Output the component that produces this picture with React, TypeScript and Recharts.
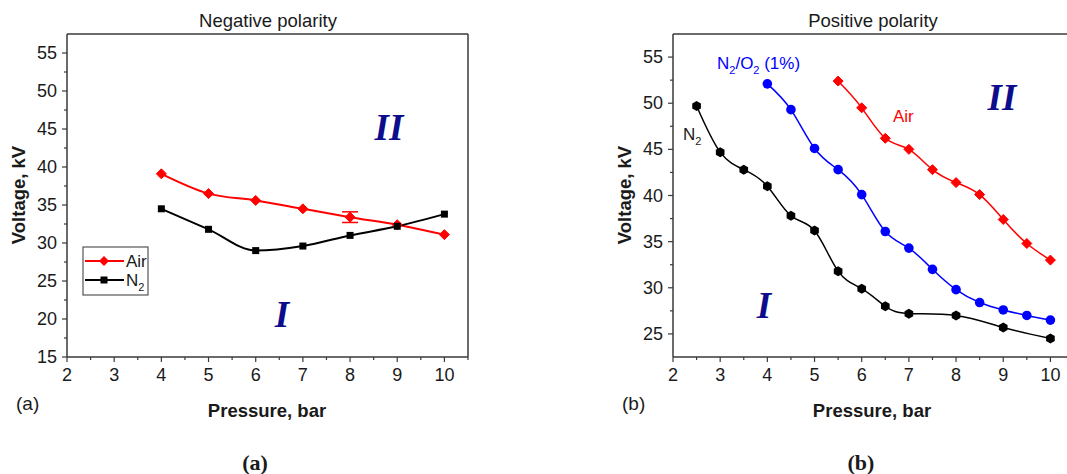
import React from "react";
import { LineChart, Line, XAxis, YAxis, ReferenceLine, ErrorBar } from "recharts";

// (a) negative polarity
const pressureNeg = [4, 5, 6, 7, 8, 9, 10];
const airNeg = [39.1, 36.5, 35.6, 34.5, 33.4, 32.4, 31.1];
const airNegErr = [0, 0, 0, 0, 0.7, 0, 0];
const n2Neg = [34.5, 31.8, 29.0, 29.6, 31.0, 32.2, 33.8];

// (b) positive polarity
const pressureN2Pos = [2.5, 3, 3.5, 4, 4.5, 5, 5.5, 6, 6.5, 7, 8, 9, 10];
const n2Pos = [49.7, 44.7, 42.8, 41.0, 37.8, 36.2, 31.8, 29.9, 28.0, 27.2, 27.0, 25.7, 24.5];
const pressureMixPos = [4, 4.5, 5, 5.5, 6, 6.5, 7, 7.5, 8, 8.5, 9, 9.5, 10];
const mixPos = [52.1, 49.3, 45.1, 42.8, 40.1, 36.1, 34.3, 32.0, 29.8, 28.4, 27.6, 27.0, 26.5];
const pressureAirPos = [5.5, 6, 6.5, 7, 7.5, 8, 8.5, 9, 9.5, 10];
const airPos = [52.4, 49.5, 46.2, 45.0, 42.8, 41.4, 40.1, 37.4, 34.8, 33.0];

const xTicks = [2, 2.5, 3, 3.5, 4, 4.5, 5, 5.5, 6, 6.5, 7, 7.5, 8, 8.5, 9, 9.5, 10, 10.5];
const yTicksNeg = [15, 17.5, 20, 22.5, 25, 27.5, 30, 32.5, 35, 37.5, 40, 42.5, 45, 47.5, 50, 52.5, 55];
const yTicksPos = [25, 27.5, 30, 32.5, 35, 37.5, 40, 42.5, 45, 47.5, 50, 52.5, 55];

const FRAME = "#3a3a3a";
const INK = "#1a1a1a";
const NAVY = "#0c0c8c";
const RED = "#ff0000";
const BLUE = "#0000ff";
const SANS = "'Liberation Sans', Arial, sans-serif";
const SERIF = "'Liberation Serif', 'Times New Roman', serif";

const zip = (xs: number[], ys: number[], err?: number[]) =>
  xs.map((x, i) => ({ x, v: ys[i], err: err ? err[i] : 0 }));

function XTick(props: any) {
  const { x, y, payload } = props;
  const v = payload.value;
  const major = Number.isInteger(v);
  return (
    <g>
      <line x1={x} y1={y} x2={x} y2={y + (major ? 5 : 3)} stroke={FRAME} strokeWidth={1.2} />
      {major && (
        <text x={x} y={y + 18} textAnchor="middle" dominantBaseline="central" fontSize={18} fontFamily={SANS} fill={INK}>
          {v}
        </text>
      )}
    </g>
  );
}

function YTick(props: any) {
  const { x, y, payload } = props;
  const v = payload.value;
  const major = v % 5 === 0;
  return (
    <g>
      <line x1={x - (major ? 5 : 3)} y1={y} x2={x} y2={y} stroke={FRAME} strokeWidth={1.2} />
      {major && (
        <text x={x - 10} y={y} textAnchor="end" dominantBaseline="central" fontSize={18} fontFamily={SANS} fill={INK}>
          {v}
        </text>
      )}
    </g>
  );
}

function diamond(color: string, r: number) {
  return (p: any) => (
    <path
      key={p.key ?? `d-${p.index}`}
      d={`M${p.cx},${p.cy - r}L${p.cx + r},${p.cy}L${p.cx},${p.cy + r}L${p.cx - r},${p.cy}Z`}
      fill={color}
      stroke={color}
    />
  );
}

function square(color: string, s: number) {
  return (p: any) => (
    <rect key={p.key ?? `s-${p.index}`} x={p.cx - s / 2} y={p.cy - s / 2} width={s} height={s} fill={color} />
  );
}

function circle(color: string, r: number) {
  return (p: any) => <circle key={p.key ?? `c-${p.index}`} cx={p.cx} cy={p.cy} r={r} fill={color} />;
}

function hexagon(color: string, r: number) {
  return (p: any) => {
    const pts = [0, 1, 2, 3, 4, 5]
      .map((k) => {
        const a = (Math.PI / 3) * k - Math.PI / 2;
        return `${p.cx + r * Math.cos(a)},${p.cy + r * Math.sin(a)}`;
      })
      .join(" ");
    return <polygon key={p.key ?? `h-${p.index}`} points={pts} fill={color} />;
  };
}

function axes(yDomain: number[], yTicks: number[]) {
  return [
    <XAxis
      key="x"
      type="number"
      dataKey="x"
      domain={[2, 10.5]}
      ticks={xTicks}
      interval={0}
      tick={<XTick />}
      tickLine={false}
      tickSize={0}
      tickMargin={0}
      height={30}
      allowDataOverflow
      axisLine={{ stroke: FRAME, strokeWidth: 1.5 }}
    />,
    <YAxis
      key="y"
      type="number"
      domain={yDomain}
      ticks={yTicks}
      interval={0}
      tick={<YTick />}
      tickLine={false}
      tickSize={0}
      tickMargin={0}
      width={40}
      allowDataOverflow
      axisLine={{ stroke: FRAME, strokeWidth: 1.5 }}
    />,
    <ReferenceLine key="top" y={yDomain[1]} stroke={FRAME} strokeWidth={1.5} />,
    <ReferenceLine key="right" x={10.5} stroke={FRAME} strokeWidth={1.5} />,
  ];
}

function Sub({ children }: { children: React.ReactNode }) {
  return (
    <tspan fontSize={11} dy={5}>
      {children}
    </tspan>
  );
}

export default function App() {
  return (
    <div style={{ position: "absolute", left: 0, top: 0, width: 1067, height: 474, overflow: "hidden", background: "#fff" }}>
      <div style={{ position: "absolute", left: 0, top: 0 }}>
        <LineChart width={520} height={474} margin={{ top: 34, right: 52, bottom: 87, left: 27 }}>
          {axes([15, 57.5], yTicksNeg)}
          <Line
            data={zip(pressureNeg, airNeg, airNegErr)}
            dataKey="v"
            type="monotone"
            stroke={RED}
            strokeWidth={2}
            dot={diamond(RED, 5)}
            activeDot={false}
            isAnimationActive={false}
          >
            <ErrorBar dataKey="err" direction="y" width={8} stroke={RED} strokeWidth={1.5} isAnimationActive={false} />
          </Line>
          <Line
            data={zip(pressureNeg, n2Neg)}
            dataKey="v"
            type="monotone"
            stroke="#000"
            strokeWidth={2}
            dot={square("#000", 7)}
            activeDot={false}
            isAnimationActive={false}
          />
        </LineChart>
      </div>

      <div style={{ position: "absolute", left: 540, top: 0 }}>
        <LineChart width={540} height={474} margin={{ top: 34, right: 6, bottom: 87, left: 93 }}>
          {axes([22.5, 57.5], yTicksPos)}
          <Line
            data={zip(pressureN2Pos, n2Pos)}
            dataKey="v"
            type="natural"
            stroke="#000"
            strokeWidth={1.5}
            dot={hexagon("#000", 5)}
            activeDot={false}
            isAnimationActive={false}
          />
          <Line
            data={zip(pressureMixPos, mixPos)}
            dataKey="v"
            type="natural"
            stroke={BLUE}
            strokeWidth={1.5}
            dot={circle(BLUE, 4.8)}
            activeDot={false}
            isAnimationActive={false}
          />
          <Line
            data={zip(pressureAirPos, airPos)}
            dataKey="v"
            type="natural"
            stroke={RED}
            strokeWidth={1.5}
            dot={diamond(RED, 5)}
            activeDot={false}
            isAnimationActive={false}
          />
        </LineChart>
      </div>

      <svg width={1067} height={474} style={{ position: "absolute", left: 0, top: 0, pointerEvents: "none" }}>
        <g fontFamily={SANS} fill={INK}>
          <text x={268} y={20} textAnchor="middle" dominantBaseline="central" fontSize={18.5}>Negative polarity</text>
          <text x={873} y={20} textAnchor="middle" dominantBaseline="central" fontSize={18.5}>Positive polarity</text>
          <text x={267} y={410} textAnchor="middle" dominantBaseline="central" fontSize={18.5} fontWeight="bold">Pressure, bar</text>
          <text x={872} y={410} textAnchor="middle" dominantBaseline="central" fontSize={18.5} fontWeight="bold">Pressure, bar</text>
          <text transform="translate(18,195) rotate(-90)" textAnchor="middle" dominantBaseline="central" fontSize={18.5} fontWeight="bold">Voltage, kV</text>
          <text transform="translate(624,195) rotate(-90)" textAnchor="middle" dominantBaseline="central" fontSize={18.5} fontWeight="bold">Voltage, kV</text>
          <text x={16} y={403} dominantBaseline="central" fontSize={19}>(a)</text>
          <text x={622} y={403} dominantBaseline="central" fontSize={19}>(b)</text>
        </g>
        <g fontFamily={SERIF} fontWeight="bold" fill={INK} fontSize={22}>
          <text x={255} y={462} textAnchor="middle" dominantBaseline="central">(a)</text>
          <text x={861} y={462} textAnchor="middle" dominantBaseline="central">(b)</text>
        </g>
        <g fontFamily={SERIF} fontStyle="italic" fontWeight="bold" fill={NAVY} fontSize={37}>
          <text x={389} y={127} textAnchor="middle" dominantBaseline="central">II</text>
          <text x={282} y={314} textAnchor="middle" dominantBaseline="central">I</text>
          <text x={1002} y={97} textAnchor="middle" dominantBaseline="central">II</text>
          <text x={764} y={305} textAnchor="middle" dominantBaseline="central">I</text>
        </g>
        <g fontFamily={SANS} fontSize={17}>
          <text x={717} y={69} fill={BLUE}>
            N<Sub>2</Sub>
            <tspan dy={-5}>/O</tspan>
            <Sub>2</Sub>
            <tspan dy={-5}> (1%)</tspan>
          </text>
          <text x={893} y={122} fill={RED}>Air</text>
          <text x={683} y={140} fill={INK}>
            N<Sub>2</Sub>
          </text>
        </g>
        {/* legend of panel (a) */}
        <rect x={83} y={247} width={65} height={48} fill="#fff" stroke="#555" strokeWidth={1.2} />
        <line x1={85} y1={261} x2={124} y2={261} stroke={RED} strokeWidth={2} />
        <path d="M104,256L109,261L104,266L99,261Z" fill={RED} />
        <line x1={85} y1={280} x2={124} y2={280} stroke="#000" strokeWidth={2} />
        <rect x={100.5} y={276.5} width={7} height={7} fill="#000" />
        <g fontFamily={SANS} fontSize={17} fill={INK}>
          <text x={126} y={261} dominantBaseline="central">Air</text>
          <text x={126} y={286}>
            N<Sub>2</Sub>
          </text>
        </g>
      </svg>
    </div>
  );
}
